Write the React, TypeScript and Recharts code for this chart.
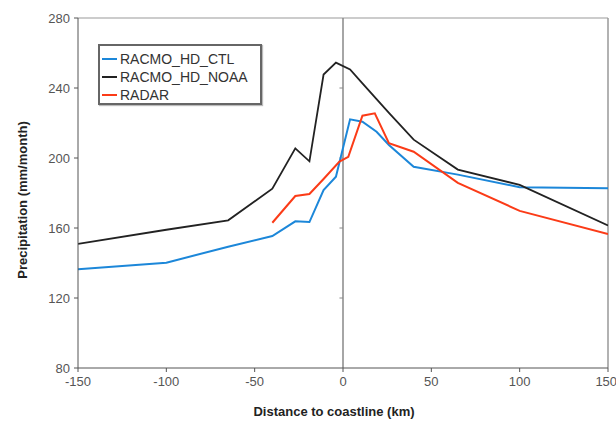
import { LineChart, Line, XAxis, YAxis, ReferenceLine, Legend, Label } from "recharts";

// distance to coastline (km) of the model grid points
const modelDist = [-150, -100, -65, -40, -27, -19, -11, -4, 4, 11, 19, 26, 40, 65, 100, 150];
const ctlValues = [136.4, 140.2, 149.3, 155.4, 163.8, 163.4, 181.7, 189.3, 222.1, 220.7, 215, 207.4, 195, 190.5, 183.3, 182.7];
const noaaValues = [150.9, 159, 164.4, 182.5, 205.5, 198.1, 247.7, 254.5, 250.6, 242.7, 233.7, 225.8, 210.5, 193.4, 184.6, 161.5];

// radar only starts 40 km inland
const radarDist = [-40, -27, -19, -11, -2, 3, 11, 18, 26, 40, 65, 100, 150];
const radarValues = [163, 178.3, 179.4, 188, 198, 200.7, 224.2, 225.5, 208.5, 203.6, 185.8, 169.8, 156.5];

const xTicks = [-150, -100, -50, 0, 50, 100, 150];
const yTicks = [80, 120, 160, 200, 240, 280];

const toRows = (dist: number[], vals: number[]) => dist.map((d, i) => ({ d, v: vals[i] }));

const ctlData = toRows(modelDist, ctlValues);
const noaaData = toRows(modelDist, noaaValues);
const radarData = toRows(radarDist, radarValues);

const tickStyle = { fontSize: 13, fill: "#555" };

const LegendBox = (props: any) => {
  const items = props.payload || [];
  return (
    <div
      style={{
        border: "2px solid #666",
        background: "#fff",
        padding: "4px 0 4px 2px",
        boxShadow: "1px 1px 1px #bbb",
        boxSizing: "border-box",
        width: 164,
        height: 61,
      }}
    >
      {items.map((it: any) => (
        <div key={it.value} style={{ display: "flex", alignItems: "center", height: 18, fontSize: 14, color: "#333" }}>
          <span style={{ display: "inline-block", width: 15, height: 2.5, background: it.color, marginRight: 3 }} />
          {it.value}
        </div>
      ))}
    </div>
  );
};

const App = () => {
  return (
    <div
      style={{
        position: "absolute",
        left: 0,
        top: 0,
        width: 616,
        height: 421,
        background: "#fff",
        fontFamily: "'Liberation Sans', Arial, sans-serif",
      }}
    >
      <LineChart width={616} height={421} margin={{ top: 18, right: 8, left: 0, bottom: 0 }}>
        <XAxis
          dataKey="d"
          type="number"
          domain={[-150, 150]}
          ticks={xTicks}
          allowDataOverflow
          stroke="#555"
          tick={tickStyle}
          tickSize={4}
          tickMargin={5}
          height={53}
        >
          <Label
            content={(p: any) => {
              const vb = p.viewBox;
              return (
                <text x={vb.x + vb.width / 2 - 9} y={vb.y + 48} textAnchor="middle" fontSize={13} fontWeight="bold" fill="#222">
                  Distance to coastline (km)
                </text>
              );
            }}
          />
        </XAxis>
        <YAxis
          type="number"
          domain={[80, 280]}
          ticks={yTicks}
          allowDataOverflow
          stroke="#555"
          tick={tickStyle}
          tickSize={4}
          tickMargin={4}
          width={78}
        >
          <Label
            content={(p: any) => {
              const vb = p.viewBox;
              const cx = 22;
              const cy = vb.y + vb.height / 2 + 7;
              return (
                <text x={cx} y={cy} transform={`rotate(-90 ${cx} ${cy})`} textAnchor="middle" dominantBaseline="central" fontSize={13} fontWeight="bold" fill="#222">
                  Precipitation (mm/month)
                </text>
              );
            }}
          />
        </YAxis>
        <ReferenceLine y={280} stroke="#bbb" strokeWidth={1.5} />
        <ReferenceLine x={150} stroke="#999" strokeWidth={1.5} />
        <ReferenceLine x={0} stroke="#888" strokeWidth={1.5} />
        {yTicks.slice(1, -1).map((t) => (
          <ReferenceLine
            key={t}
            segment={[
              { x: -2, y: t },
              { x: 0, y: t },
            ]}
            stroke="#888"
          />
        ))}
        <Legend
          layout="vertical"
          align="center"
          verticalAlign="middle"
          content={LegendBox}
          wrapperStyle={{ left: 98, top: 44, width: 164, height: 61 }}
        />
        <Line data={ctlData} dataKey="v" name="RACMO_HD_CTL" type="linear" stroke="#1c87d9" strokeWidth={2} dot={false} isAnimationActive={false} />
        <Line data={noaaData} dataKey="v" name="RACMO_HD_NOAA" type="linear" stroke="#222" strokeWidth={1.8} dot={false} isAnimationActive={false} />
        <Line data={radarData} dataKey="v" name="RADAR" type="linear" stroke="#fb3b17" strokeWidth={2} dot={false} isAnimationActive={false} />
      </LineChart>
    </div>
  );
};

export default App;
